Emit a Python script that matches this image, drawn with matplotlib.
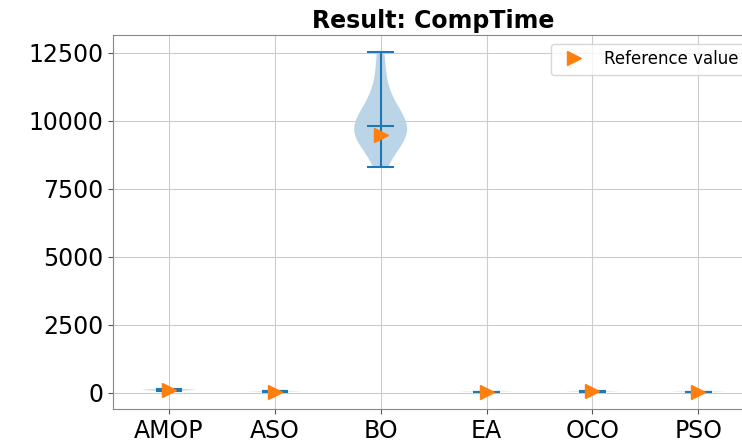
import matplotlib
matplotlib.use("Agg")
import matplotlib.pyplot as plt
from matplotlib.ticker import MultipleLocator
import numpy as np

# computation time samples per optimiser
methods = ["AMOP", "ASO", "BO", "EA", "OCO", "PSO"]
amop_times = [70, 85, 95, 100, 105, 110, 120, 135]
aso_times = [30, 35, 40, 42, 45, 50]
bo_times = [8310, 8850, 9200, 9350, 9430, 9500, 9560, 9650,
            9930, 10000, 10150, 10300, 10550, 10950, 11600, 12518]
ea_times = [22, 25, 28, 30, 32, 35]
oco_times = [35, 40, 45, 48, 50, 55]
pso_times = [22, 25, 27, 30, 33, 36]
reference_values = [100, 40, 9485, 25, 45, 28]

samples = [amop_times, aso_times, bo_times, ea_times, oco_times, pso_times]
positions = np.arange(1, len(methods) + 1)

fig = plt.figure(figsize=(7.42, 4.41), dpi=100)
ax = fig.add_axes([0.1527, 0.0726, 0.8633, 0.8474])

ax.violinplot(samples, positions=positions, showmedians=True)
ax.plot(positions, reference_values, linestyle="none", marker=">",
        color="C1", markersize=9.5, label="Reference value")

ax.set_xticks(positions)
ax.set_xticklabels(methods)
ax.yaxis.set_major_locator(MultipleLocator(2500))
ax.tick_params(labelsize=17, colors="#555555", labelcolor="black")
ax.grid(True, color="#cccccc")
for s in ax.spines.values():
    s.set_color("#888888")
ax.set_title("Result: CompTime", fontsize=17, fontweight="bold", pad=5)
ax.legend(loc="upper right", fontsize=12)

fig.savefig("out.png", dpi=100)
